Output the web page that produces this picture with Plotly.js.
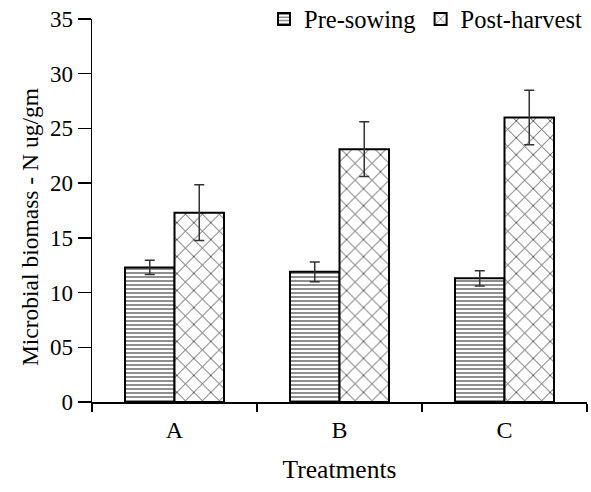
<!DOCTYPE html>
<html>
<head>
<meta charset="utf-8">
<script src="https://cdn.plot.ly/plotly-3.0.1.min.js"></script>
<style>html,body{margin:0;padding:0;background:#fff;}#chart{width:591px;height:492px;}</style>
</head>
<body>
<div id="chart"></div>
<script>
const categories = ["A", "B", "C"];
const preSowing = [12.3, 11.9, 11.3];
const preSowingErr = [0.65, 0.9, 0.7];
const postHarvest = [17.3, 23.1, 26.0];
const postHarvestErr = [2.55, 2.5, 2.5];
const yTickVals = [0, 5, 10, 15, 20, 25, 30, 35];
const yTickText = ["0", "05", "10", "15", "20", "25", "30", "35"];
const yTitle = "Microbial biomass - N ug/gm";
const xTitle = "Treatments";

const font = "Liberation Serif, Times New Roman, serif";

const traces = [
  {
    type: "bar", name: "Pre-sowing", x: categories, y: preSowing,
    error_y: {type: "data", array: preSowingErr, visible: true, color: "#333", thickness: 1.5, width: 5},
    marker: {color: "#fff", line: {color: "#000", width: 2},
      pattern: {shape: "-", fgcolor: "#444", bgcolor: "#fff", size: 4, solidity: 0.3}}
  },
  {
    type: "bar", name: "Post-harvest", x: categories, y: postHarvest,
    error_y: {type: "data", array: postHarvestErr, visible: true, color: "#333", thickness: 1.5, width: 5},
    marker: {color: "#fff", line: {color: "#000", width: 2},
      pattern: {shape: "x", fgcolor: "#222", bgcolor: "#fff", size: 12, solidity: 0.12}}
  }
];

const layout = {
  width: 591, height: 492,
  margin: {l: 92, r: 4, t: 19, b: 90, autoexpand: false},
  paper_bgcolor: "#fff", plot_bgcolor: "#fff",
  font: {family: font, size: 23, color: "#000"},
  barmode: "group", bargap: 0.4, bargroupgap: 0,
  showlegend: true,
  legend: {orientation: "h", x: 1.0, xanchor: "right", y: 1.0, yanchor: "middle",
    font: {family: font, size: 24.5, color: "#000"}, bgcolor: "rgba(255,255,255,0)",
    itemwidth: 30, traceorder: "normal"},
  xaxis: {
    type: "category", range: [-0.5, 2.5],
    showline: true, linecolor: "#000", linewidth: 1.5,
    ticks: "outside", tickson: "boundaries", ticklen: 8, tickcolor: "#000", tickwidth: 1.5,
    tickfont: {family: font, size: 24}, ticklabelstandoff: 6,
    showgrid: false, zeroline: false,
    title: {text: xTitle, font: {family: font, size: 25.5}, standoff: 18}
  },
  yaxis: {
    range: [0, 35], tickvals: yTickVals, ticktext: yTickText,
    showline: true, linecolor: "#000", linewidth: 1.5,
    ticks: "outside", ticklen: 13, tickcolor: "#000", tickwidth: 1.5,
    tickfont: {family: font, size: 23},
    showgrid: false, zeroline: false
  },
  annotations: [{
    text: yTitle, textangle: -90, showarrow: false,
    xref: "paper", yref: "paper", x: -0.125, y: 0.457,
    xanchor: "center", yanchor: "middle",
    font: {family: font, size: 23.5, color: "#000"}
  }]
};

Plotly.newPlot("chart", traces, layout, {displayModeBar: false, staticPlot: true});
</script>
</body>
</html>
